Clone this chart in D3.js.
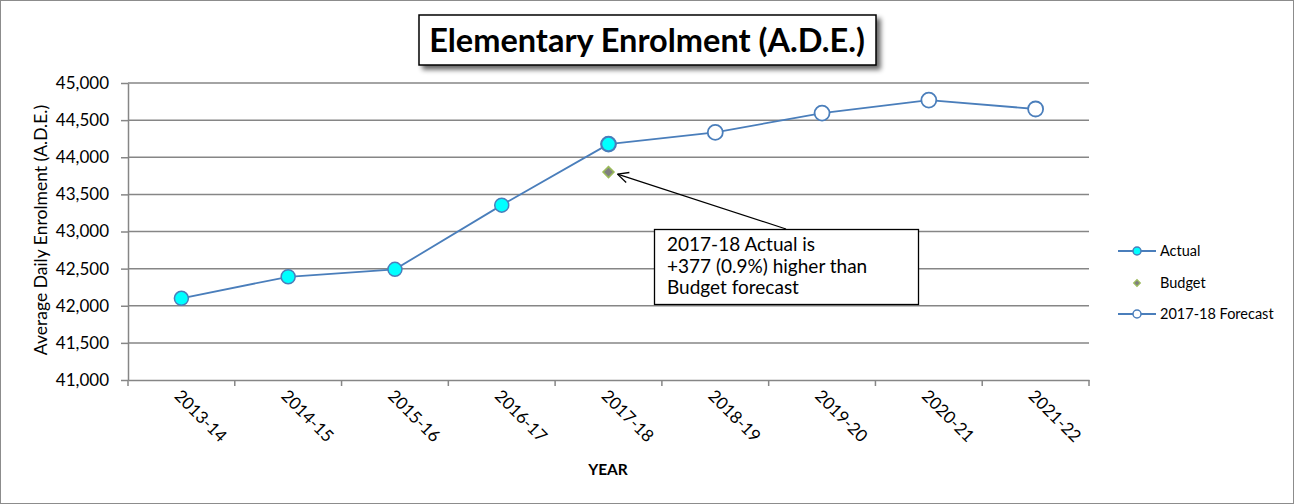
<!DOCTYPE html>
<html><head><meta charset="utf-8">
<script src="https://cdn.jsdelivr.net/npm/d3@7"></script>
<style>
html,body{margin:0;padding:0;background:#fff;}
svg{display:block;font-family:Lato,"Liberation Sans",sans-serif;}
</style></head>
<body>
<svg id="chart" width="1294" height="504"></svg>
<script>
const categories = ["2013-14","2014-15","2015-16","2016-17","2017-18","2018-19","2019-20","2020-21","2021-22"];
const actual = [42100, 42390, 42490, 43355, 44177, null, null, null, null];
const budget = [null, null, null, null, 43800, null, null, null, null];
const forecast = [null, null, null, null, 44177, 44335, 44595, 44770, 44650];
const yTicks = [41000, 41500, 42000, 42500, 43000, 43500, 44000, 44500, 45000];
const title = "Elementary Enrolment (A.D.E.)";
const yTitle = "Average Daily Enrolment (A.D.E.)";
const xTitle = "YEAR";
const legendLabels = ["Actual", "Budget", "2017-18 Forecast"];
const noteLines = ["2017-18 Actual is", "+377 (0.9%) higher than", "Budget forecast"];

const svg = d3.select("#chart");
const W = 1294, H = 504;
const lineColor = "#4A7EBB", gridColor = "#868686";

// outer border
svg.append("rect").attr("x",0.5).attr("y",0.5).attr("width",W-1).attr("height",H-1)
  .attr("fill","#fff").attr("stroke","#8c8c8c").attr("stroke-width",1);

const defs = svg.append("defs");
const f = defs.append("filter").attr("id","shadow").attr("x","-10%").attr("y","-30%").attr("width","120%").attr("height","170%");
f.append("feGaussianBlur").attr("in","SourceAlpha").attr("stdDeviation",2.5).attr("result","b");
f.append("feOffset").attr("in","b").attr("dx",4).attr("dy",4).attr("result","o");
f.append("feComponentTransfer").attr("in","o").attr("result","o2").append("feFuncA").attr("type","linear").attr("slope",0.6);
const fm = f.append("feMerge"); fm.append("feMergeNode").attr("in","o2"); fm.append("feMergeNode").attr("in","SourceGraphic");

const m = {left:128, right:1089, top:83, bottom:380};
const x = d3.scaleBand().domain(categories).range([m.left, m.right]);
const y = d3.scaleLinear().domain([41000, 45000]).range([m.bottom, m.top]);
const cx = c => x(c) + x.bandwidth()/2;

// gridlines
svg.append("g").selectAll("line").data(yTicks.filter(t=>t>41000)).join("line")
  .attr("x1",m.left).attr("x2",m.right).attr("y1",d=>y(d)).attr("y2",d=>y(d))
  .attr("stroke",gridColor).attr("stroke-width",1.5);

// y axis
const yAxis = svg.append("g").attr("transform",`translate(${m.left},0)`)
  .call(d3.axisLeft(y).tickValues(yTicks).tickFormat(d3.format(",")).tickSize(7).tickSizeOuter(0));
yAxis.select(".domain").attr("stroke",gridColor).attr("stroke-width",1.5);
yAxis.selectAll(".tick line").attr("stroke",gridColor).attr("stroke-width",1.5);
yAxis.selectAll(".tick text").attr("font-size",17).attr("fill","#000").attr("font-family","Lato").attr("x",-19);

// x axis
const xAxis = svg.append("g").attr("transform",`translate(0,${m.bottom})`)
  .call(d3.axisBottom(x).tickSize(0).tickFormat(""));
xAxis.select(".domain").attr("stroke",gridColor).attr("stroke-width",1.5);
const bounds = categories.map(c=>x(c)).concat([m.right]);
svg.append("g").selectAll("line").data(bounds).join("line")
  .attr("x1",d=>d).attr("x2",d=>d).attr("y1",m.bottom).attr("y2",m.bottom+6)
  .attr("stroke",gridColor).attr("stroke-width",1.5);
svg.append("g").selectAll("text").data(categories).join("text")
  .attr("transform",d=>`translate(${cx(d)-8},${m.bottom+17}) rotate(45)`)
  .attr("font-size",17).attr("fill","#000").attr("text-anchor","start").text(d=>d);

// axis titles
svg.append("text").attr("transform",`translate(47,230) rotate(-90)`).attr("text-anchor","middle")
  .attr("font-size",17.5).attr("fill","#000").text(yTitle);
svg.append("text").attr("x",608).attr("y",475).attr("text-anchor","middle")
  .attr("font-size",15.5).attr("font-weight","bold").attr("fill","#000").text(xTitle);

// lines
const lineGen = d3.line().defined(d=>d.v!=null).x(d=>cx(d.c)).y(d=>y(d.v));
const fData = categories.map((c,i)=>({c, v:forecast[i]}));
const aData = categories.map((c,i)=>({c, v:actual[i]}));
svg.append("path").datum(fData).attr("d",lineGen).attr("fill","none").attr("stroke",lineColor).attr("stroke-width",1.8);
svg.append("path").datum(aData).attr("d",lineGen).attr("fill","none").attr("stroke",lineColor).attr("stroke-width",1.8);

svg.append("g").selectAll("circle").data(fData.filter(d=>d.v!=null)).join("circle")
  .attr("cx",d=>cx(d.c)).attr("cy",d=>y(d.v)).attr("r",7.5)
  .attr("fill","#fff").attr("stroke",lineColor).attr("stroke-width",1.8);
svg.append("g").selectAll("circle").data(aData.filter(d=>d.v!=null)).join("circle")
  .attr("cx",d=>cx(d.c)).attr("cy",d=>y(d.v)).attr("r",7)
  .attr("fill","#00FFFF").attr("stroke",lineColor).attr("stroke-width",1.5);

const bData = categories.map((c,i)=>({c, v:budget[i]})).filter(d=>d.v!=null);
svg.append("g").selectAll("path").data(bData).join("path")
  .attr("transform",d=>`translate(${cx(d.c)},${y(d.v)}) rotate(45)`)
  .attr("d",d3.symbol().type(d3.symbolSquare).size(60))
  .attr("fill","#808080").attr("stroke","#9BBB59").attr("stroke-width",1.5);

// annotation
const bx = cx("2017-18"), by = y(budget[4]);
const tipX = bx + 9, tipY = by + 2;
const startX = 786, startY = 229;
svg.append("line").attr("x1",startX).attr("y1",startY).attr("x2",tipX).attr("y2",tipY)
  .attr("stroke","#000").attr("stroke-width",1.3);
const ang = Math.atan2(startY-tipY, startX-tipX);
[0.45,-0.45].forEach(a=>{
  svg.append("line").attr("x1",tipX).attr("y1",tipY)
    .attr("x2",tipX+12*Math.cos(ang+a)).attr("y2",tipY+12*Math.sin(ang+a))
    .attr("stroke","#000").attr("stroke-width",1.3);
});
svg.append("rect").attr("x",654.5).attr("y",229.5).attr("width",264).attr("height",75)
  .attr("fill","#fff").attr("stroke","#000").attr("stroke-width",1.3);
svg.append("g").selectAll("text").data(noteLines).join("text")
  .attr("x",667).attr("y",(d,i)=>251+i*21.5).attr("font-size",19).attr("fill","#000").text(d=>d);

// legend
const lg = svg.append("g");
const ly = [251, 283, 314];
[0,2].forEach(i=>{
  lg.append("line").attr("x1",1118).attr("x2",1156).attr("y1",ly[i]).attr("y2",ly[i]).attr("stroke",lineColor).attr("stroke-width",1.8);
  lg.append("circle").attr("cx",1137).attr("cy",ly[i]).attr("r",4)
    .attr("fill", i===0 ? "#00FFFF" : "#fff").attr("stroke",lineColor).attr("stroke-width",1.5);
});
lg.append("path").attr("transform",`translate(1137,${ly[1]}) rotate(45)`)
  .attr("d",d3.symbol().type(d3.symbolSquare).size(22)).attr("fill","#808080").attr("stroke","#9BBB59").attr("stroke-width",1.2);
lg.selectAll("text").data(legendLabels).join("text")
  .attr("x",1160).attr("y",(d,i)=>ly[i]+5).attr("font-size",14.5).attr("fill","#000").text(d=>d);

// title
svg.append("rect").attr("x",419).attr("y",15).attr("width",457).attr("height",50)
  .attr("fill","#fff").attr("stroke","#000").attr("stroke-width",1.5).attr("filter","url(#shadow)");
svg.append("text").attr("x",647).attr("y",52).attr("text-anchor","middle")
  .attr("font-size",32.5).attr("font-weight","bold").attr("fill","#000").text(title);
</script>
</body></html>
